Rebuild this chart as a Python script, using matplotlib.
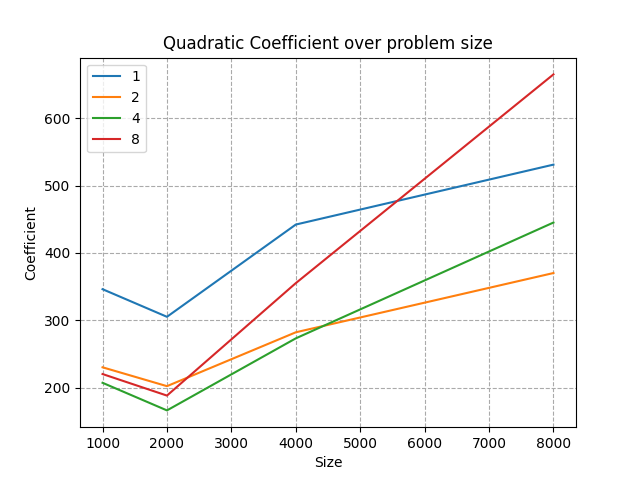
import matplotlib
matplotlib.use("Agg")
import matplotlib.pyplot as plt

sizes = [1000, 2000, 4000, 8000]
labels = ["1", "2", "4", "8"]
coef_1 = [346, 305, 442, 531]
coef_2 = [230, 202, 282, 370]
coef_4 = [207, 166, 273, 445]
coef_8 = [220, 188, 355, 665]

fig, ax = plt.subplots(figsize=(6.4, 4.8), dpi=100)
for lab, vals in zip(labels, [coef_1, coef_2, coef_4, coef_8]):
    ax.plot(sizes, vals, label=lab)

ax.set_title("Quadratic Coefficient over problem size")
ax.set_xlabel("Size")
ax.set_ylabel("Coefficient")
ax.grid(True, linestyle="--", color="#aaaaaa")
ax.legend(loc="upper left")
fig.savefig("out.png")
